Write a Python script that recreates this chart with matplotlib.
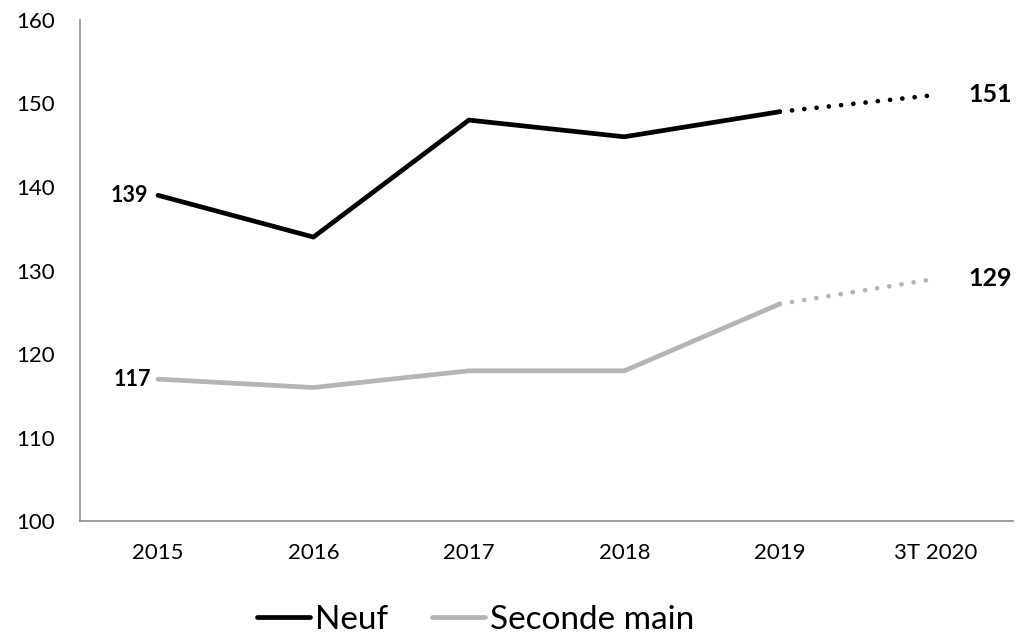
import numpy as np
import matplotlib.pyplot as plt

plt.rcParams['font.family'] = ['Lato', 'DejaVu Sans']

categories = ['2015', '2016', '2017', '2018', '2019', '3T 2020']
neuf = [139, 134, 148, 146, 149, 151]
occasion = [117, 116, 118, 118, 126, 129]

black = '#000000'
grey = '#b4b4b4'
lw = 3.4
dots = (0, (0.01, 2.6))

fig = plt.figure(figsize=(10.16, 6.38), dpi=100)
ax = fig.add_axes([0.079, 0.183, 0.918, 0.786])

x = np.arange(len(categories))

# solid part up to 2019, dotted to 3T 2020
ax.plot(x[:5], neuf[:5], color=black, lw=lw, solid_capstyle='round', label='Neuf')
ax.plot(x[4:], neuf[4:], color=black, lw=lw, linestyle=dots, dash_capstyle='round')
ax.plot(x[:5], occasion[:5], color=grey, lw=lw, solid_capstyle='round', label='Seconde main')
ax.plot(x[4:], occasion[4:], color=grey, lw=lw, linestyle=dots, dash_capstyle='round')

# data labels
ax.annotate(str(neuf[0]), (x[0], neuf[0]), xytext=(-7, 0), textcoords='offset points',
            ha='right', va='center', fontsize=15.5, fontweight='bold')
ax.annotate(str(occasion[0]), (x[0], occasion[0]), xytext=(-5, 0), textcoords='offset points',
            ha='right', va='center', fontsize=15.5, fontweight='bold')
ax.annotate(str(neuf[-1]), (x[-1], neuf[-1]), xytext=(24, 0), textcoords='offset points',
            ha='left', va='center', fontsize=18, fontweight='bold')
ax.annotate(str(occasion[-1]), (x[-1], occasion[-1]), xytext=(24, 0), textcoords='offset points',
            ha='left', va='center', fontsize=18, fontweight='bold')

ax.set_xlim(-0.5, len(categories) - 0.5)
ax.set_ylim(100, 160)
ax.set_yticks(range(100, 161, 10))
ax.set_xticks(x)
ax.set_xticklabels(categories)
ax.tick_params(axis='y', length=0, labelsize=16, pad=18)
ax.tick_params(axis='x', length=0, labelsize=16, pad=16)

for s in ['top', 'right']:
    ax.spines[s].set_visible(False)
for s in ['left', 'bottom']:
    ax.spines[s].set_color('#8c8c8c')
    ax.spines[s].set_linewidth(1.2)

fig.legend(loc='lower center', bbox_to_anchor=(0.468, -0.042), ncol=2, frameon=False,
           fontsize=24, handlelength=1.6, handletextpad=0.15, columnspacing=1.3)

fig.savefig('out.png', dpi=100)
